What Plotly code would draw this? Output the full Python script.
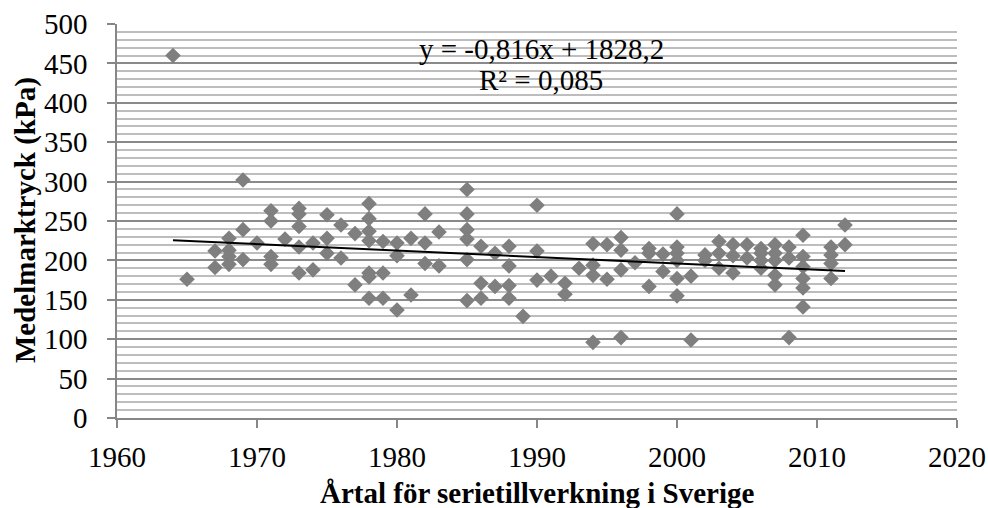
import numpy as np
import plotly.graph_objects as go

years = [1964, 1965,
         1967, 1967, 1968, 1968, 1968, 1968, 1969, 1969, 1969, 1970,
         1971, 1971, 1971, 1971, 1972, 1973, 1973, 1973, 1973, 1973,
         1974, 1974, 1975, 1975, 1975, 1976, 1976, 1977, 1977,
         1978, 1978, 1978, 1978, 1978, 1978, 1978, 1979, 1979, 1979,
         1980, 1980, 1980, 1981, 1981, 1982, 1982, 1982, 1983, 1983,
         1985, 1985, 1985, 1985, 1985, 1985, 1986, 1986, 1986, 1987, 1987,
         1988, 1988, 1988, 1988, 1989, 1990, 1990, 1990, 1991, 1992, 1992,
         1993, 1994, 1994, 1994, 1994, 1995, 1995, 1996, 1996, 1996, 1996,
         1997, 1998, 1998, 1998, 1999, 1999,
         2000, 2000, 2000, 2000, 2000, 2000, 2001, 2001, 2002, 2002,
         2003, 2003, 2003, 2004, 2004, 2004, 2005, 2005,
         2006, 2006, 2006, 2006, 2007, 2007, 2007, 2007, 2007,
         2008, 2008, 2008, 2009, 2009, 2009, 2009, 2009, 2009,
         2011, 2011, 2011, 2011, 2012, 2012]
pressure = [460, 176,
            212, 191, 228, 213, 205, 195, 302, 239, 201, 222,
            263, 250, 205, 195, 227, 266, 259, 243, 217, 184,
            222, 188, 258, 228, 209, 245, 203, 234, 169,
            272, 253, 237, 225, 184, 179, 152, 224, 184, 152,
            222, 206, 137, 228, 156, 259, 222, 196, 236, 193,
            290, 259, 239, 227, 201, 149, 218, 171, 152, 209, 167,
            218, 193, 168, 152, 129, 270, 212, 175, 180, 171, 157,
            190, 221, 194, 181, 96, 220, 176, 229, 213, 188, 102,
            197, 215, 209, 167, 208, 186,
            259, 217, 209, 200, 177, 155, 180, 99, 207, 200,
            224, 209, 190, 220, 206, 184, 220, 203,
            215, 209, 200, 190, 220, 209, 200, 181, 169,
            217, 203, 102, 232, 205, 192, 177, 165, 141,
            217, 207, 196, 177, 245, 220]

slope = -0.816
intercept = 1828.2
r_squared = 0.085

x_title = "Årtal för serietillverkning i Sverige"
y_title = "Medelmarktryck (kPa)"
x_ticks = [1960, 1970, 1980, 1990, 2000, 2010, 2020]
y_ticks = list(range(0, 501, 50))

fit_x = np.array([min(years), max(years)])
fit_y = slope * fit_x + intercept

SERIF = "Liberation Serif"

fig = go.Figure()
fig.add_trace(go.Scatter(
    x=years, y=pressure, mode="markers",
    marker=dict(symbol="diamond", size=12, color="#7f7f7f", line=dict(width=0)),
    showlegend=False, cliponaxis=False))
fig.add_trace(go.Scatter(
    x=fit_x, y=fit_y, mode="lines",
    line=dict(color="black", width=2), showlegend=False))

def fmt(v, d):
    return f"{v:.{d}f}".replace(".", ",")

fig.add_annotation(x=0.505, xref="paper", y=0.937, yref="paper",
                   text=f"y = {fmt(slope,3)}x + {fmt(intercept,1)}",
                   showarrow=False, yanchor="middle", xanchor="center",
                   font=dict(family=SERIF, size=29, color="black"))
fig.add_annotation(x=0.505, xref="paper", y=0.857, yref="paper",
                   text=f"R² = {fmt(r_squared,3)}",
                   showarrow=False, yanchor="middle", xanchor="center",
                   font=dict(family=SERIF, size=29, color="black"))
# axis titles
fig.add_annotation(x=0.5, xref="paper", y=-0.19, yref="paper",
                   text=f"<b>{x_title}</b>", showarrow=False,
                   xanchor="center", yanchor="middle",
                   font=dict(family=SERIF, size=29, color="black"))
fig.add_annotation(x=-0.1095, xref="paper", y=0.5025, yref="paper",
                   text=f"<b>{y_title}</b>", showarrow=False, textangle=-90,
                   xanchor="center", yanchor="middle",
                   font=dict(family=SERIF, size=29, color="black"))

fig.update_layout(
    width=988, height=508,
    margin=dict(l=117, r=31, t=24, b=90),
    paper_bgcolor="white", plot_bgcolor="white",
    font=dict(family=SERIF, size=29, color="black"),
    xaxis=dict(range=[1960, 2020], tickvals=x_ticks, showgrid=False,
               showline=True, linecolor="#868686", linewidth=1.5,
               ticks="outside", ticklen=8, tickcolor="#868686", tickwidth=1.5,
               zeroline=False, ticklabelstandoff=4, automargin=False,
               tickfont=dict(family=SERIF, size=29, color="black")),
    yaxis=dict(range=[0, 500], tickvals=y_ticks, showgrid=True,
               gridcolor="#8a8a8a", gridwidth=1.5,
               showline=True, linecolor="#868686", linewidth=1.5,
               ticks="outside", ticklen=8, tickcolor="#868686", tickwidth=1.5,
               zeroline=False, ticklabelstandoff=14, automargin=False,
               tickfont=dict(family=SERIF, size=29, color="black"),
               minor=dict(dtick=10, showgrid=True, gridcolor="#bdbdbd", gridwidth=1.5)),
)

fig.write_html("out.html")
